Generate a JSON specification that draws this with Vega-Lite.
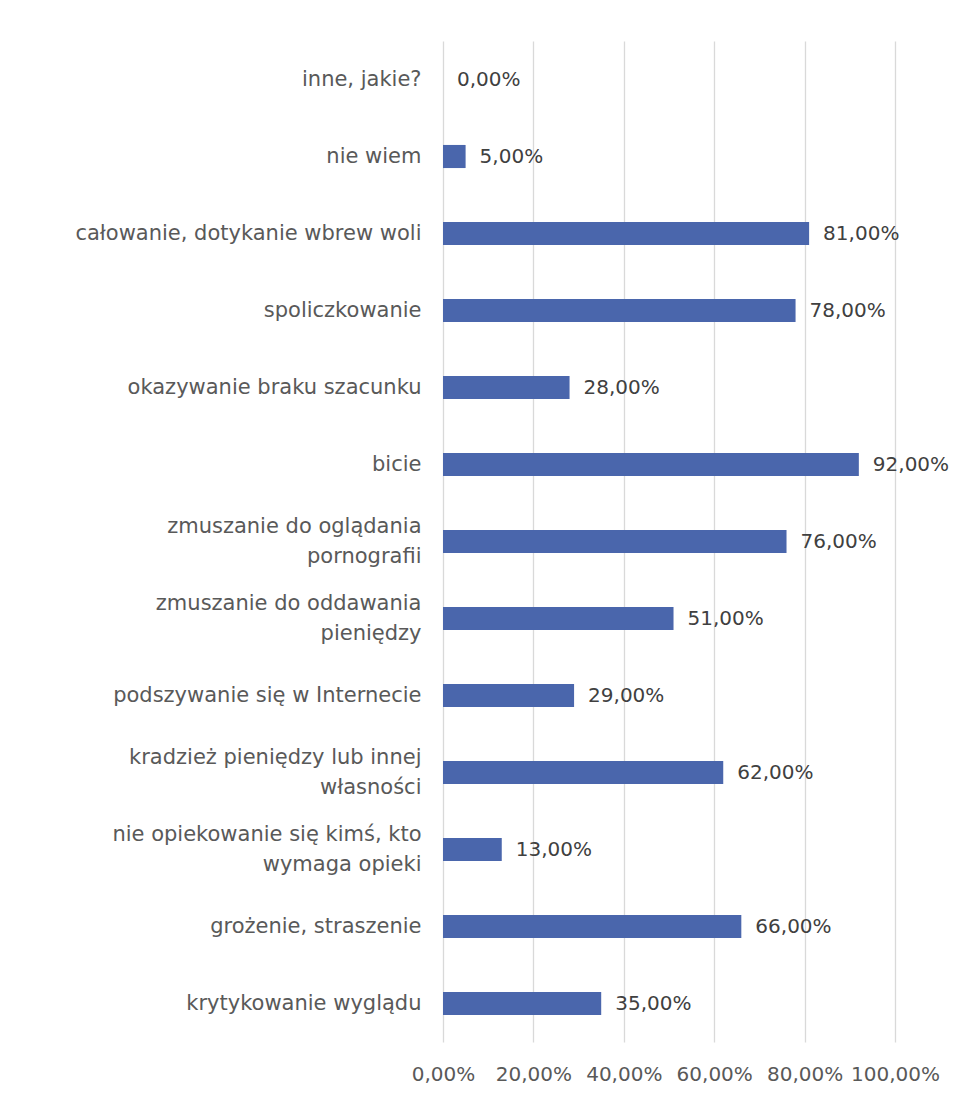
{
  "$schema": "https://vega.github.io/schema/vega-lite/v6.json",
  "autosize": {"type": "none"},
  "width": 452,
  "height": 1001,
  "padding": {"left": 443, "top": 41, "right": 63, "bottom": 53},
  "background": "white",
  "config": {
    "locale": {"number": {"decimal": ",", "thousands": " ", "grouping": [3], "currency": ["", " zł"]}},
    "view": {"stroke": null},
    "font": "DejaVu Sans"
  },
  "data": {"values": [
    {"k": "inne, jakie?", "v": 0.00},
    {"k": "nie wiem", "v": 0.05},
    {"k": "całowanie, dotykanie wbrew woli", "v": 0.81},
    {"k": "spoliczkowanie", "v": 0.78},
    {"k": "okazywanie braku szacunku", "v": 0.28},
    {"k": "bicie", "v": 0.92},
    {"k": "zmuszanie do oglądania pornografii", "v": 0.76},
    {"k": "zmuszanie do oddawania pieniędzy", "v": 0.51},
    {"k": "podszywanie się w Internecie", "v": 0.29},
    {"k": "kradzież pieniędzy lub innej własności", "v": 0.62},
    {"k": "nie opiekowanie się kimś, kto wymaga opieki", "v": 0.13},
    {"k": "grożenie, straszenie", "v": 0.66},
    {"k": "krytykowanie wyglądu", "v": 0.35}
  ]},
  "encoding": {
    "y": {
      "field": "k", "type": "nominal", "sort": null,
      "scale": {"paddingInner": 0.7, "paddingOuter": 0.35},
      "axis": {
        "title": null, "domain": false, "ticks": false, "grid": false,
        "labelFontSize": 21, "labelColor": "#595959", "labelPadding": 22,
        "labelFont": "DejaVu Sans", "labelLimit": 420, "labelLineHeight": 30,
        "labelOffset": {"condition": {"test": "length(datum.value) > 31", "value": -15}, "value": 0},
        "labelExpr": "datum.label == 'zmuszanie do oglądania pornografii' ? ['zmuszanie do oglądania', 'pornografii'] : datum.label == 'zmuszanie do oddawania pieniędzy' ? ['zmuszanie do oddawania', 'pieniędzy'] : datum.label == 'kradzież pieniędzy lub innej własności' ? ['kradzież pieniędzy lub innej', 'własności'] : datum.label == 'nie opiekowanie się kimś, kto wymaga opieki' ? ['nie opiekowanie się kimś, kto', 'wymaga opieki'] : datum.label"
      }
    },
    "x": {
      "field": "v", "type": "quantitative",
      "scale": {"domain": [0, 1], "nice": false},
      "axis": {
        "title": null, "domain": false, "ticks": false,
        "values": [0, 0.2, 0.4, 0.6, 0.8, 1],
        "format": ".2%", "labelFontSize": 20, "labelColor": "#595959",
        "labelPadding": 22, "labelFont": "DejaVu Sans",
        "gridColor": "#d9d9d9", "gridWidth": 1.3,
        "labelOverlap": false, "labelFlush": false
      }
    }
  },
  "layer": [
    {"mark": {"type": "bar", "color": "#4a66ac"}},
    {
      "mark": {"type": "text", "align": "left", "baseline": "middle", "dx": 14, "fontSize": 20, "color": "#404040", "font": "DejaVu Sans"},
      "encoding": {"text": {"field": "v", "type": "quantitative", "format": ".2%"}}
    }
  ]
}
